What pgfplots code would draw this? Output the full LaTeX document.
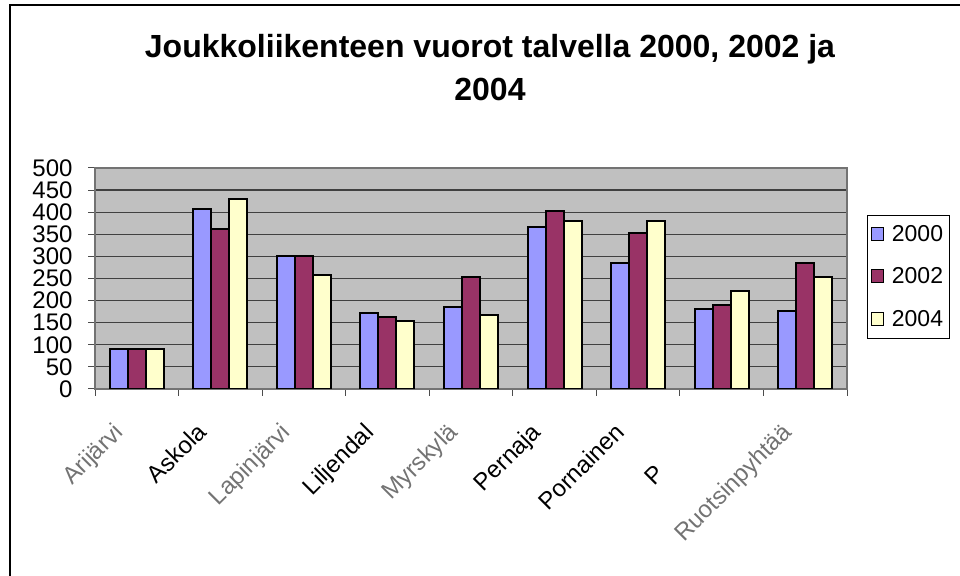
\documentclass[border=0pt]{standalone}
\usepackage{pgfplots}
\pgfplotsset{compat=1.18}
\usepackage{fontspec}
\setmainfont{Liberation Sans}
\definecolor{c2000}{HTML}{9999FF}
\definecolor{c2002}{HTML}{993366}
\definecolor{c2004}{HTML}{FFFFCC}
\definecolor{plotbg}{HTML}{C0C0C0}
\begin{document}
\begin{tikzpicture}[x=1bp,y=1bp]
\useasboundingbox (0,0) rectangle (960,576);
\draw[line width=2.5bp] (10,0) -- (10,571) -- (960,571);
\node[font=\fontsize{32bp}{43bp}\selectfont\bfseries, align=center] at (490,508) {Joukkoliikenteen vuorot talvella 2000, 2002 ja\\2004};
\begin{axis}[
  at={(95bp,187bp)}, anchor=south west, scale only axis,
  width=752bp, height=221bp,
  ybar=0pt, bar width=18bp,
  ymin=0, ymax=500, ytick={0,50,...,500},
  xmin=-0.5, xmax=8.5,
  xtick={0,...,8},
  xticklabels={{\textcolor{black!55}{Arijärvi}},Askola,{\textcolor{black!55}{Lapinjärvi}},Liljendal,{\textcolor{black!55}{Myrskylä}},Pernaja,Pornainen,{P\phantom{orvoo}},{\textcolor{black!55}{Ruotsinpyhtää}}},
  minor xtick={-0.5,0.5,...,8.5},
  major x tick style={draw=none},
  tick align=outside, tick pos=left,
  major tick length=7bp, minor tick length=7bp,
  tick style={black!70, line width=1bp},
  ymajorgrids, grid style={black!75, line width=1.2bp},
  axis background/.style={fill=plotbg},
  axis line style={black!55, line width=1.2bp},
  /pgf/number format/assume math mode=true,
  tick label style={font=\fontsize{24bp}{24bp}\selectfont},
  yticklabel style={xshift=-12bp},
  xticklabel style={rotate=45, anchor=north east, xshift=-32bp, yshift=3bp},
  legend style={at={(1,1)}, anchor=north west, xshift=20bp, yshift=-47bp,
    draw=black, line width=0.8bp, font=\fontsize{23bp}{23bp}\selectfont,
    row sep=21bp, inner xsep=4bp, inner ysep=8bp},
  legend cell align=left,
  legend image code/.code={\draw[#1, line width=1bp] (0bp,-6bp) rectangle (12bp,7bp); \path (17bp,0bp);},
  every axis plot/.append style={draw=black, line width=2bp},
]
\addplot[fill=c2000] coordinates {(0,90) (1,407) (2,300) (3,172) (4,186) (5,366) (6,285) (7,181) (8,176)};
\addplot[fill=c2002] coordinates {(0,90) (1,362) (2,300) (3,163) (4,253) (5,403) (6,353) (7,190) (8,285)};
\addplot[fill=c2004] coordinates {(0,90) (1,430) (2,258) (3,153) (4,167) (5,380) (6,380) (7,222) (8,253)};
\legend{2000,2002,2004}
\end{axis}
\end{tikzpicture}
\end{document}
